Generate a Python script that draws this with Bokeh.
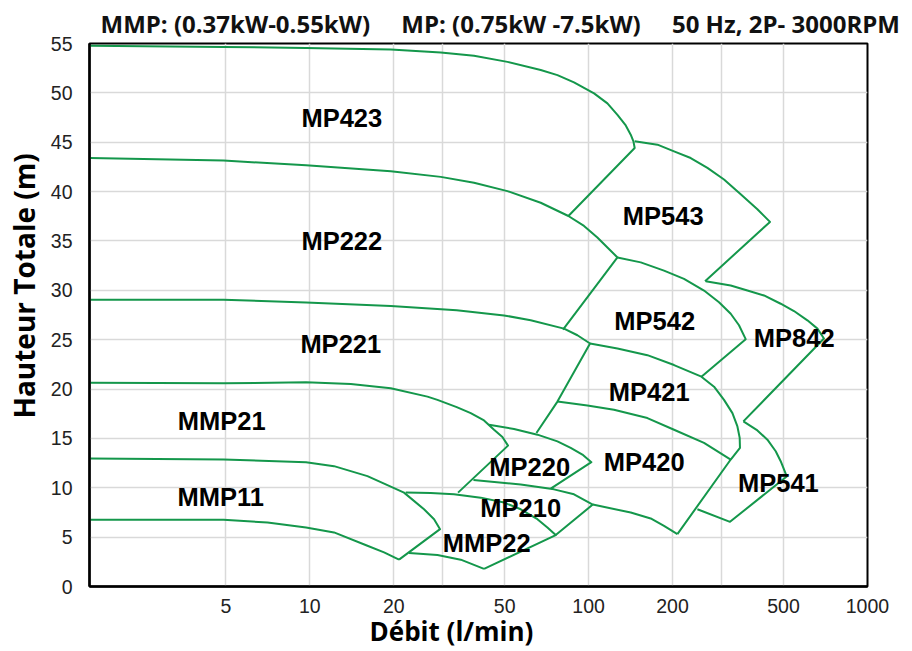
from bokeh.plotting import figure
from bokeh.models import FixedTicker, NumeralTickFormatter, ColumnDataSource
from bokeh.core.properties import value
from bokeh.embed import file_html
from bokeh.resources import INLINE

# ---- data (flow l/min, head m) ----
mp423_q = [1.63, 4.90, 9.69, 19.51, 29.48, 38.81, 51.14, 67.32, 77.30, 88.62, 104.6, 116.8, 126.9, 135.9, 141.6, 144.8, 146.3, 84.62]
mp423_h = [54.78, 54.65, 54.55, 54.38, 54.08, 53.75, 53.14, 52.31, 51.80, 51.06, 49.95, 48.94, 47.77, 46.70, 45.76, 45.09, 44.41, 37.53]

mp543_q = [146.3, 176.6, 202.5, 232.4, 266.8, 306.0, 351.2, 403.1, 447.3, 261.6]
mp543_h = [45.09, 44.75, 44.08, 43.40, 42.40, 41.23, 39.72, 38.21, 36.93, 30.92]

mp222_q = [1.63, 4.90, 9.69, 19.51, 29.48, 38.81, 51.14, 67.32, 84.62, 96.27, 107.5, 116.8, 126.9, 80.93]
mp222_h = [43.40, 43.14, 42.67, 42.06, 41.49, 40.89, 40.05, 38.87, 37.53, 36.52, 35.35, 34.34, 33.33, 26.02]

mp542_q = [126.9, 153.8, 186.4, 219.9, 259.4, 293.6, 323.4, 346.3, 366.0, 253.9]
mp542_h = [33.33, 32.83, 31.99, 31.16, 29.98, 28.80, 27.63, 26.46, 25.05, 21.25]

mp842_q = [263.0, 323.4, 371.2, 425.7, 488.7, 545.4, 609.2, 661.9, 698.6, 359.1]
mp842_h = [30.92, 30.48, 29.98, 29.48, 28.64, 27.90, 26.96, 26.12, 25.12, 16.72]

mp221_q = [1.63, 4.90, 9.69, 19.51, 33.64, 49.72, 61.98, 81.60, 91.17, 101.2, 77.30, 64.98]
mp221_h = [29.04, 29.04, 28.77, 28.40, 27.97, 27.46, 26.96, 26.12, 25.45, 24.61, 18.73, 15.55]

mp421_q = [101.2, 126.9, 162.5, 202.5, 253.9, 281.8, 306.0, 328.0, 341.8, 348.3, 349.1, 323.4, 208.2]
mp421_h = [24.61, 24.11, 23.43, 22.43, 21.25, 20.24, 18.90, 17.56, 16.21, 15.05, 14.04, 12.86, 5.31]

mp420_q = [77.30, 99.0, 123.3, 162.5, 202.5, 259.4, 323.4]
mp420_h = [18.73, 18.33, 17.90, 17.06, 15.88, 14.54, 12.86]

mmp21_q = [1.63, 4.90, 9.69, 14.02, 19.51, 26.41, 28.69, 33.64, 37.77, 42.15, 45.79, 49.06, 51.39, 34.01]
mmp21_h = [20.64, 20.58, 20.68, 20.51, 20.08, 19.23, 18.90, 18.17, 17.56, 16.82, 15.88, 15.15, 14.27, 9.51]

mp220_q = [43.94, 54.0, 65.52, 77.30, 86.25, 95.0, 102.3, 73.13]
mp220_h = [16.38, 15.95, 15.38, 14.70, 14.04, 13.36, 12.59, 9.91]

mp210_q = [38.62, 57.08, 75.13, 88.62, 103.5, 76.21]
mp210_h = [10.78, 10.34, 9.84, 9.34, 8.30, 5.21]

mp420b_q = [103.5, 141.6, 167.0, 186.4, 208.2]
mp420b_h = [8.30, 7.49, 6.89, 6.14, 5.31]

mmp22_q = [22.08, 27.14, 32.89, 41.02, 49.72, 57.08, 65.52, 71.15, 76.21, 42.15]
mmp22_h = [9.51, 9.47, 9.34, 9.00, 8.50, 7.82, 6.82, 5.98, 5.21, 1.78]

mmp22b_q = [22.69, 28.69, 34.78, 42.15]
mmp22b_h = [3.39, 3.19, 2.72, 1.78]

mmp11_q = [1.63, 4.90, 9.69, 12.21, 16.09, 18.72, 21.77, 25.68, 27.90, 29.31, 20.89]
mmp11_h = [12.96, 12.86, 12.59, 12.19, 11.18, 10.34, 9.51, 7.82, 6.82, 5.81, 2.72]

low_q = [1.63, 4.90, 7.05, 9.69, 12.21, 16.09, 18.46, 20.89]
low_h = [6.75, 6.75, 6.49, 5.98, 5.48, 4.13, 3.46, 2.72]

mp541_q = [359.1, 403.1, 437.9, 469.0, 488.7, 505.1, 513.5, 321.5, 245.6]
mp541_h = [16.72, 15.81, 14.87, 13.70, 12.69, 11.68, 11.15, 6.55, 7.82]

label_text = ["MP423", "MP222", "MP221", "MMP21", "MMP11", "MP543", "MP542", "MP842",
              "MP421", "MP420", "MP541", "MP220", "MP210", "MMP22"]
label_q = [13.02, 13.02, 12.91, 4.83, 4.79, 185.2, 172.6, 546.3, 165.0, 158.3, 479.5, 61.47, 57.08, 43.1]
label_h = [47.43, 35.02, 24.54, 16.79, 9.08, 37.53, 26.86, 25.20, 19.71, 12.61, 10.44, 12.10, 7.93, 4.40]

x_ticks = [5, 10, 20, 50, 100, 200, 500, 1000]
x_grid = [5, 10, 20, 30, 50, 100, 200, 300, 500]
y_ticks = [0, 5, 10, 15, 20, 25, 30, 35, 40, 45, 50, 55]

title_parts = ["MMP: (0.37kW-0.55kW)", "MP: (0.75kW -7.5kW)", "50 Hz, 2P- 3000RPM"]
x_title = "Débit (l/min)"
y_title = "Hauteur Totale (m)"

NB = "\u00a0"

# ---- figure ----
GREEN = "#14974b"
p = figure(width=912, height=651, x_axis_type="log", x_range=(1.62, 1001), y_range=(0, 55),
           output_backend="svg", toolbar_location=None,
           min_border_left=89, min_border_right=45, min_border_top=41, min_border_bottom=63)

p.title.text = (NB * 5).join(title_parts)
p.title.align = "left"
p.title.offset = 11
p.title.standoff = 8
p.title.text_font = "Open Sans"
p.title.text_font_style = "bold"
p.title.text_font_size = "24px"
p.title.text_color = "#111111"

curves = [(mp423_q, mp423_h), (mp543_q, mp543_h), (mp222_q, mp222_h), (mp542_q, mp542_h),
          (mp842_q, mp842_h), (mp221_q, mp221_h), (mp421_q, mp421_h), (mp420_q, mp420_h),
          (mmp21_q, mmp21_h), (mp220_q, mp220_h), (mp210_q, mp210_h), (mp420b_q, mp420b_h),
          (mmp22_q, mmp22_h), (mmp22b_q, mmp22b_h), (mmp11_q, mmp11_h), (low_q, low_h),
          (mp541_q, mp541_h)]
for q, h in curves:
    p.line(q, h, line_color=GREEN, line_width=2, line_join="round")

src = ColumnDataSource(dict(x=label_q, y=label_h, t=label_text))
p.text(x="x", y="y", text="t", source=src, text_align="center", text_baseline="middle",
       text_font=value("Liberation Sans"), text_font_style="bold", text_font_size="25.5px",
       text_color="#000000")

# axes
p.xaxis.ticker = FixedTicker(ticks=x_ticks)
p.xaxis.formatter = NumeralTickFormatter(format="0")
p.yaxis.ticker = FixedTicker(ticks=y_ticks)
for ax in (p.xaxis, p.yaxis):
    ax.major_tick_line_color = None
    ax.minor_tick_line_color = None
    ax.axis_line_color = "#000000"
    ax.axis_line_width = 2.5
    ax.major_label_text_font = "Liberation Sans"
    ax.major_label_text_font_size = "19.5px"
    ax.major_label_text_color = "#222222"
    ax.axis_label_text_font = "Open Sans"
    ax.axis_label_text_font_style = "bold"
    ax.axis_label_text_color = "#000000"

p.xaxis.axis_label = x_title + NB * 8
p.xaxis.axis_label_text_font_size = "26px"
p.xaxis.major_label_standoff = 6
p.xaxis.axis_label_standoff = -3
p.yaxis.axis_label = NB * 8 + y_title
p.yaxis.axis_label_text_font_size = "28px"
p.yaxis.major_label_standoff = 11
p.yaxis.axis_label_standoff = 5

p.xgrid.ticker = FixedTicker(ticks=x_grid)
p.ygrid.ticker = FixedTicker(ticks=y_ticks)
p.grid.grid_line_color = "#d9d9d9"
p.grid.grid_line_width = 1.5

p.outline_line_color = "#000000"
p.outline_line_width = 2
p.background_fill_color = "white"
p.border_fill_color = "white"

open("out.html", "w").write(file_html(p, INLINE))
